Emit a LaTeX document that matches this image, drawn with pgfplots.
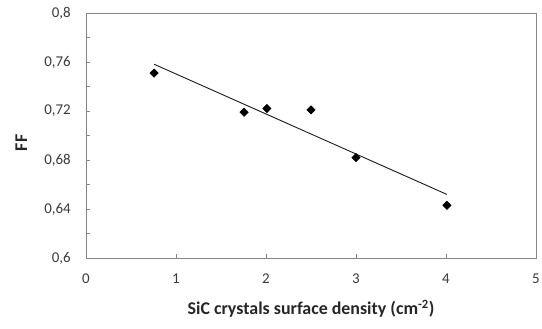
\documentclass[border=0pt]{standalone}
\usepackage{pgfplots}
\pgfplotsset{compat=1.18}
\usepackage{fontspec}
\setmainfont{Carlito}
\definecolor{axgray}{HTML}{868686}
\definecolor{txt}{HTML}{3A3A3A}
\begin{document}
\begin{tikzpicture}
\begin{axis}[
  scale only axis,
  width=450bp, height=245bp,
  at={(0,0)}, anchor=south west,
  xmin=0, xmax=5, ymin=0.6, ymax=0.8,
  xtick={0,1,2,3,4,5},
  xticklabels={0,1,2,3,4,5},
  ytick={0.6,0.64,0.68,0.72,0.76,0.8},
  yticklabels={{0,6},{0,64},{0,68},{0,72},{0,76},{0,8}},
  minor ytick={0.62,0.66,0.70,0.74,0.78},
  tick align=inside,
  xtick pos=bottom, ytick pos=left,
  major tick length=4bp, minor tick length=4bp,
  axis line style={axgray, line width=0.8pt},
  every tick/.style={axgray, line width=0.6pt},
  /pgf/number format/assume math mode=true,
  tick label style={font=\fontsize{15}{17}\selectfont, text=txt},
  xticklabel style={anchor=center, yshift=-21bp},
  yticklabel style={anchor=east, inner sep=0pt, xshift=-15bp},
  xlabel={SiC crystals surface density (cm\textsuperscript{-2})},
  ylabel={FF},
  label style={font=\fontsize{18}{20}\selectfont\bfseries, text=black!85},
  xlabel style={at={(axis description cs:0.5,0)}, anchor=center, yshift=-51bp},
  ylabel style={at={(axis description cs:-0.144,0.47)}, anchor=center},
  clip=false,
]
\addplot[only marks, mark=square*, mark size=3bp, mark options={rotate=45, fill=black, draw=black}]
  coordinates {(0.756,0.751) (1.756,0.719) (2.01,0.722) (2.5,0.721) (3.0,0.682) (4.01,0.643)};
\addplot[black!90, line width=0.9bp, no marks]
  coordinates {(0.756,0.7582) (4.01,0.6519)};
\end{axis}
\pgfresetboundingbox
\path (-86bp,-71bp) rectangle (456bp,258bp);
\end{tikzpicture}
\end{document}
